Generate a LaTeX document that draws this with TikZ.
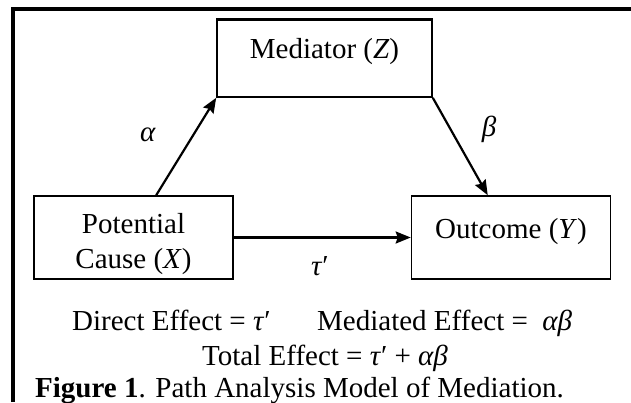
\documentclass[tikz,border=0pt]{standalone}
\usepackage{fontspec}
\setmainfont{Liberation Serif}
\usetikzlibrary{arrows.meta}

\begin{document}
\begin{tikzpicture}[x=1pt, y=-1pt, >={Stealth[length=15pt,width=12pt,inset=2pt]},
    box/.style={draw, line width=1.6pt, minimum width=199pt, minimum height=83pt, inner sep=0pt},
    txt/.style={inner sep=0pt, font=\fontsize{29}{33}\selectfont},
    path/.style={->, line width=2.2pt}]
    \useasboundingbox (0,0) rectangle (631,402);

    % frame of the figure
    \draw[line width=3.5pt] (13,402) -- (13,9) -- (631,9);

    % boxes
    \node[box, minimum width=215pt, minimum height=77pt] (med) at (324.5,58.5) {};
    \draw[line width=3pt] (med.north west) -- (med.north east);
    \node[box] (cause) at (133.5,237.5) {};
    \node[box] (outc) at (511,237.5) {};

    \node[txt, anchor=base] (medtxt) at (med.north |- 0,58) {Mediator (\textit{Z})};
    \node[txt, anchor=base] (causetxt) at (cause.north |- 0,233) {Potential};
    \node[txt, anchor=base] (causetxtb) at (cause.north |- 0,268) {Cause (\textit{X})};
    \node[txt, anchor=base] (outctxt) at (outc.north |- 0,238) {Outcome (\textit{Y})};

    % paths
    \draw[path] ([xshift=123pt]cause.north west) -- (med.south west);
    \draw[path] (med.south east) -- ([xshift=77pt]outc.north west);
    \draw[path] (cause.east) -- (outc.west);

    \node[txt] (alpha) at (148,135) {\textit{α}};
    \node[txt] (beta) at (489,129) {\textit{β}};
    \node[txt, anchor=base] (tau) at (320,275) {\textit{τ}′};

    % effects and caption
    \node[txt, anchor=base west] (direct) at (72,330) {Direct Effect = \textit{τ}′};
    \node[txt, anchor=base west] (mediated) at (317,330) {Mediated Effect =\ \ \textit{αβ}};
    \node[txt, anchor=base west] (total) at (202,365) {Total Effect = \textit{τ}′ + \textit{αβ}};
    \node[txt, anchor=base west] (caption) at (35,397) {\textbf{Figure 1}. Path Analysis Model of Mediation.};
\end{tikzpicture}
\end{document}
